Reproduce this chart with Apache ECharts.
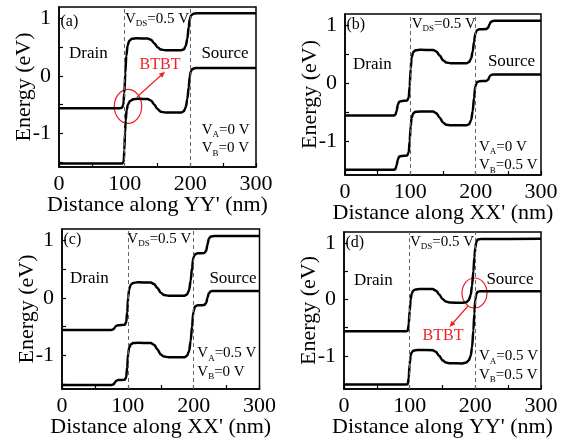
<!DOCTYPE html>
<html>
<head>
<meta charset="utf-8">
<script src="https://cdn.jsdelivr.net/npm/echarts@6/dist/echarts.min.js"></script>
<style>
  html, body { margin: 0; padding: 0; background: #fff; }
  #chart { width: 571px; height: 439px; }
</style>
</head>
<body>
<div id="chart"></div>
<script>
// band edges, [distance nm, energy eV]
// (a) YY', VA=0 V, VB=0 V
const aCond = [[0,-0.565],[93,-0.565],[96,-0.555],[98,-0.5],[99.5,-0.3],[101,0.05],[102.5,0.35],[104.5,0.53],[107,0.61],[111,0.645],[118,0.655],[135,0.65],[140,0.63],[145,0.57],[150,0.5],[155,0.46],[162,0.445],[185,0.445],[190,0.46],[193,0.52],[195.5,0.65],[197.5,0.85],[199,0.98],[201,1.05],[204,1.08],[210,1.09],[300,1.09]];
const aVal = [[0,-1.53],[96,-1.53],[98.5,-1.5],[99.5,-1.3],[100.5,-1.0],[101.5,-0.78],[103,-0.6],[105,-0.5],[108,-0.44],[113,-0.41],[120,-0.40],[135,-0.405],[140,-0.43],[145,-0.5],[150,-0.58],[155,-0.625],[162,-0.64],[186,-0.64],[190,-0.62],[193,-0.55],[195.5,-0.4],[197.5,-0.2],[199,-0.02],[200.5,0.07],[203,0.12],[208,0.135],[300,0.135]];
// (b) XX', VA=0 V, VB=0.5 V
const bCond = [[0,-0.56],[74,-0.56],[77,-0.55],[79,-0.48],[81,-0.37],[83,-0.32],[86,-0.31],[95,-0.30],[97.5,-0.25],[99,-0.05],[100.5,0.25],[102,0.45],[104.5,0.54],[108,0.57],[115,0.58],[135,0.575],[140,0.55],[145,0.48],[150,0.4],[155,0.36],[162,0.345],[186,0.345],[190,0.37],[193,0.43],[195.5,0.55],[197.5,0.72],[199.5,0.86],[202,0.92],[206,0.935],[216,0.94],[219,0.96],[221,1.02],[223,1.06],[226,1.08],[232,1.085],[300,1.085]];
const bVal = [[0,-1.50],[74,-1.50],[77,-1.49],[79,-1.42],[81,-1.32],[83,-1.27],[86,-1.26],[95,-1.25],[97.5,-1.2],[99,-1.0],[100.5,-0.75],[102,-0.6],[104.5,-0.52],[108,-0.495],[115,-0.49],[135,-0.49],[140,-0.52],[145,-0.6],[150,-0.68],[155,-0.72],[162,-0.73],[186,-0.73],[190,-0.71],[193,-0.64],[195.5,-0.48],[197.5,-0.25],[199.5,-0.05],[202,0.02],[206,0.035],[216,0.04],[219,0.06],[221,0.11],[223,0.14],[226,0.15],[232,0.15],[300,0.15]];
// (c) XX', VA=0.5 V, VB=0 V
const cCond = [[0,-0.56],[75,-0.56],[78,-0.55],[80,-0.52],[82,-0.49],[85,-0.478],[95,-0.47],[97.5,-0.43],[99,-0.25],[100.5,0.0],[102,0.15],[104.5,0.23],[108,0.26],[115,0.27],[135,0.265],[140,0.24],[145,0.17],[150,0.09],[155,0.05],[162,0.035],[186,0.035],[190,0.06],[193,0.13],[195.5,0.3],[197.5,0.52],[199.5,0.7],[202,0.76],[206,0.775],[216,0.78],[219,0.82],[221,0.93],[223,1.03],[226,1.07],[232,1.08],[300,1.08]];
const cVal = [[0,-1.52],[75,-1.52],[78,-1.51],[80,-1.48],[82,-1.45],[85,-1.435],[95,-1.43],[97.5,-1.39],[99,-1.2],[100.5,-0.98],[102,-0.87],[104.5,-0.81],[108,-0.79],[115,-0.785],[135,-0.79],[140,-0.82],[145,-0.9],[150,-0.99],[155,-1.025],[162,-1.035],[186,-1.035],[190,-1.01],[193,-0.93],[195.5,-0.75],[197.5,-0.5],[199.5,-0.25],[202,-0.15],[206,-0.13],[216,-0.125],[219,-0.09],[221,0.0],[223,0.08],[226,0.115],[232,0.12],[300,0.12]];
// (d) YY', VA=0.5 V, VB=0.5 V
const dCond = [[0,-0.565],[94,-0.565],[97,-0.555],[98.5,-0.45],[100,-0.2],[101.5,0.0],[103,0.1],[105.5,0.16],[109,0.18],[115,0.188],[135,0.185],[140,0.16],[145,0.09],[150,0.01],[155,-0.035],[162,-0.055],[180,-0.058],[186,-0.05],[190,-0.01],[193,0.08],[195,0.25],[197,0.5],[198.5,0.75],[200,0.92],[201.5,1.02],[203.5,1.065],[208,1.075],[300,1.08]];
const dVal = [[0,-1.51],[94,-1.51],[97,-1.505],[98.5,-1.4],[100,-1.15],[101.5,-1.0],[103,-0.94],[105.5,-0.91],[109,-0.9],[115,-0.895],[135,-0.9],[140,-0.93],[145,-1.0],[150,-1.08],[155,-1.12],[162,-1.134],[180,-1.135],[186,-1.12],[190,-1.08],[193,-1.0],[195,-0.85],[197,-0.55],[198.5,-0.25],[200,0.0],[201.5,0.1],[203.5,0.14],[208,0.145],[300,0.145]];

const xTickLabels = [0, 100, 200, 300];
const yTickLabels = [-1, 0, 1];
const yTicks = [-1.5, -1, -0.5, 0, 0.5, 1];
const dashX = [100, 200];
const panelTags = ['(a)', '(b)', '(c)', '(d)'];
const xNames = ["Distance along YY' (nm)", "Distance along XX' (nm)", "Distance along XX' (nm)", "Distance along YY' (nm)"];
const vA = ['0 V', '0 V', '0.5 V', '0.5 V'];
const vB = ['0 V', '0.5 V', '0 V', '0.5 V'];

const FONT = '"Liberation Serif","Times New Roman",serif';
const RED = '#f01e23';

// grid boxes
const grids = [
  { left: 59, top: 7, width: 197, height: 160 },
  { left: 345, top: 14, width: 196, height: 161 },
  { left: 62, top: 229, width: 197.5, height: 162 },
  { left: 344, top: 232, width: 197, height: 160 }
];

const chart = echarts.init(document.getElementById('chart'));

const ctx = document.createElement('canvas').getContext('2d');
function tw(str, size) {
  ctx.font = size + 'px ' + FONT;
  return ctx.measureText(str).width;
}
function txt(x, y, s, size, opts) {
  return Object.assign({
    type: 'text', x: x, y: y, silent: true,
    style: { text: s, fill: '#000', font: size + 'px ' + FONT, textAlign: 'left', textVerticalAlign: 'middle' }
  }, opts || {});
}
function subText(x, y, main, sub, rest, size) {
  const subSize = Math.round(size * 0.6);
  const w1 = tw(main, size), w2 = tw(sub, subSize);
  return [
    txt(x, y, main, size),
    txt(x + w1, y + 5, sub, subSize),
    txt(x + w1 + w2, y, rest, size)
  ];
}
function centered(x, y, s, size, color) {
  const t = txt(x, y, s, size);
  t.style.textAlign = 'center';
  if (color) t.style.fill = color;
  return t;
}
function arrow(x1, y1, x2, y2) {
  const ang = Math.atan2(y2 - y1, x2 - x1), L = 6, W = 2.6;
  const bx = x2 - L * Math.cos(ang), by = y2 - L * Math.sin(ang);
  return [
    { type: 'line', silent: true, shape: { x1: x1, y1: y1, x2: bx, y2: by }, style: { stroke: RED, lineWidth: 1.2 } },
    { type: 'polygon', silent: true, shape: { points: [[x2, y2], [bx - W * Math.sin(ang), by + W * Math.cos(ang)], [bx + W * Math.sin(ang), by - W * Math.cos(ang)]] }, style: { fill: RED } }
  ];
}
function ellipse(cx, cy, rx, ry) {
  return { type: 'ellipse', silent: true, shape: { cx: cx, cy: cy, rx: rx, ry: ry }, style: { fill: null, stroke: RED, lineWidth: 1.2 } };
}

const curves = [[aCond, aVal], [bCond, bVal], [cCond, cVal], [dCond, dVal]];
const xAxes = [], yAxes = [], series = [];
grids.forEach((g, i) => {
  Object.assign(g, { show: true, borderColor: '#000', borderWidth: 1.5, backgroundColor: 'transparent' });
  xAxes.push({
    gridIndex: i, type: 'value', min: 0, max: 300, interval: 50,
    axisLine: { onZero: false, lineStyle: { color: '#000', width: 1.5 } },
    axisTick: { inside: true, length: 4, lineStyle: { color: '#000', width: 1.2 } },
    axisLabel: { customValues: xTickLabels, color: '#000', fontFamily: FONT, fontSize: 22, margin: 6 },
    splitLine: { show: false },
    name: xNames[i], nameLocation: 'middle', nameGap: 27, nameMoveOverlap: false,
    nameTextStyle: { color: '#000', fontFamily: FONT, fontSize: 22, verticalAlign: 'top' }
  });
  yAxes.push({
    gridIndex: i, type: 'value', min: -1.59, max: 1.2,
    axisLine: { onZero: false, lineStyle: { color: '#000', width: 1.5 } },
    axisTick: { inside: true, length: 4, customValues: yTicks, lineStyle: { color: '#000', width: 1.2 } },
    axisLabel: { customValues: yTickLabels, color: '#000', fontFamily: FONT, fontSize: 22, margin: 8 },
    splitLine: { show: false },
    name: 'Energy (eV)', nameLocation: 'middle', nameGap: 24, nameMoveOverlap: false,
    nameTextStyle: { color: '#000', fontFamily: FONT, fontSize: 22 }
  });
  curves[i].forEach((d, k) => {
    series.push({
      type: 'line', xAxisIndex: i, yAxisIndex: i, data: d,
      showSymbol: false, smooth: 0.3, smoothMonotone: 'x',
      lineStyle: { color: '#000', width: 2.5 },
      z: 3,
      markLine: k === 0 ? {
        silent: true, symbol: 'none', label: { show: false },
        lineStyle: { color: '#666', type: [4, 3], width: 1 },
        data: dashX.map(v => ({ xAxis: v }))
      } : undefined
    });
  });
});

// in-plot labels
const tagPos = [[60.5, 21.7], [346.5, 25], [63.5, 240], [345.5, 243]];
const vdsPos = [[125, 19], [411.7, 24], [127.3, 239], [410, 242]];
const drainPos = [[88.3, 54], [372.3, 65], [89.3, 279], [373.3, 280.3]];
const sourcePos = [[225, 53.3], [511.5, 61.7], [233, 279], [510, 279.7]];
const vabPos = [[201.7, 130], [479, 146.7], [197.3, 353.3], [479, 356.3]];

let graphic = [];
for (let i = 0; i < 4; i++) {
  graphic.push(txt(tagPos[i][0], tagPos[i][1], panelTags[i], 16));
  graphic = graphic.concat(subText(vdsPos[i][0], vdsPos[i][1], 'V', 'DS', '=0.5 V', 15));
  graphic.push(centered(drainPos[i][0], drainPos[i][1], 'Drain', 17));
  graphic.push(centered(sourcePos[i][0], sourcePos[i][1], 'Source', 17));
  graphic = graphic.concat(subText(vabPos[i][0], vabPos[i][1], 'V', 'A', '=' + vA[i], 15));
  graphic = graphic.concat(subText(vabPos[i][0], vabPos[i][1] + 18.5, 'V', 'B', '=' + vB[i], 15));
}
// BTBT annotations
graphic.push(ellipse(128, 106.3, 13.7, 17));
graphic = graphic.concat(arrow(137, 97, 165, 71.7));
graphic.push(centered(160, 65, 'BTBT', 16, RED));
graphic.push(ellipse(474.5, 293, 12.5, 15));
graphic = graphic.concat(arrow(468, 306, 449.5, 327));
graphic.push(centered(443, 335.3, 'BTBT', 16, RED));

chart.setOption({
  animation: false,
  backgroundColor: '#fff',
  grid: grids,
  xAxis: xAxes,
  yAxis: yAxes,
  series: series,
  graphic: graphic
});
</script>
</body>
</html>
